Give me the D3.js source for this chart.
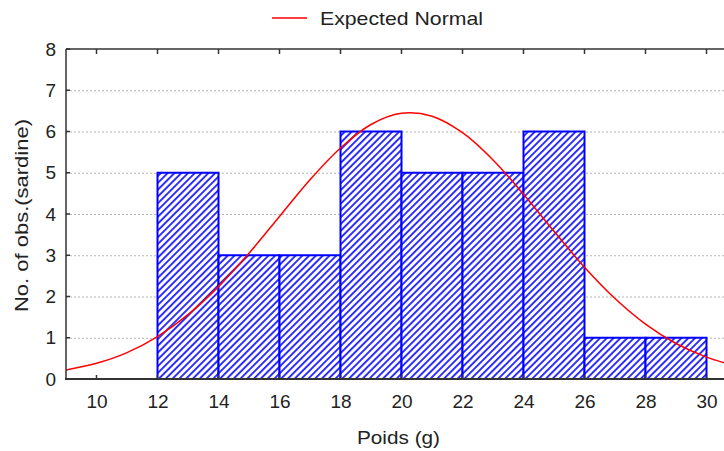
<!DOCTYPE html>
<html><head><meta charset="utf-8">
<script src="https://cdn.jsdelivr.net/npm/d3@7"></script>
<style>
html,body{margin:0;padding:0;background:#fff;overflow:hidden;}
text{font-family:"Liberation Sans",Arial,sans-serif;}
</style></head>
<body>
<svg id="chart" width="724" height="451"></svg>
<script>
// Histogram bins (lower edge, upper edge) and counts
const binStarts = [12, 14, 16, 18, 20, 22, 24, 26, 28];
const binEnds   = [14, 16, 18, 20, 22, 24, 26, 28, 30];
const counts    = [5, 3, 3, 6, 5, 5, 6, 1, 1];
// Expected normal curve
const curveX = [9, 10, 11, 12, 13, 14, 15, 16, 17, 18, 19, 20, 21, 22, 23, 24, 25, 26, 27, 28, 29, 30, 31];
const curveY = [0.22, 0.38, 0.64, 1.03, 1.56, 2.24, 3.05, 3.94, 4.83, 5.60, 6.17, 6.44, 6.37, 5.97, 5.31, 4.48, 3.58, 2.71, 1.95, 1.33, 0.86, 0.53, 0.31];
const xTicks = [10, 12, 14, 16, 18, 20, 22, 24, 26, 28, 30];
const yTicks = [0, 1, 2, 3, 4, 5, 6, 7, 8];
const xLabel = "Poids (g)";
const yLabel = "No. of obs.(sardine)";
const legendLabel = "Expected Normal";

(function () {
const svg = d3.select("#chart");
const pLeft = 66, pRight = 737, pTop = 49, pBottom = 379;
const x = d3.scaleLinear().domain([9, 31]).range([pLeft, pRight]);
const y = d3.scaleLinear().domain([0, 8]).range([pBottom, pTop]);
const fs = 19;

// hatch pattern
const defs = svg.append("defs");
const pat = defs.append("pattern").attr("id", "hatch").attr("patternUnits", "userSpaceOnUse")
  .attr("width", 4.8).attr("height", 4.8).attr("patternTransform", "rotate(45)");
pat.append("rect").attr("width", 4.8).attr("height", 4.8).attr("fill", "#fff");
pat.append("rect").attr("x", 0).attr("y", 0).attr("width", 1.9).attr("height", 4.8).attr("fill", "#2a2aff");
defs.append("clipPath").attr("id", "clip").append("rect")
  .attr("x", pLeft).attr("y", pTop).attr("width", pRight - pLeft).attr("height", pBottom - pTop);

// gridlines
svg.append("g").selectAll("line").data(yTicks.filter(d => d > 0 && d < 8)).join("line")
  .attr("x1", pLeft).attr("x2", 724).attr("y1", d => y(d) + 0.5).attr("y2", d => y(d) + 0.5)
  .attr("stroke", "#b4b4b4").attr("stroke-width", 1).attr("stroke-dasharray", "2,2");

// bars
svg.append("g").selectAll("rect").data(counts).join("rect")
  .attr("x", (d, i) => x(binStarts[i]))
  .attr("y", d => y(d))
  .attr("width", (d, i) => x(binEnds[i]) - x(binStarts[i]))
  .attr("height", d => y(0) - y(d))
  .attr("fill", "url(#hatch)").attr("stroke", "#0000ff").attr("stroke-width", 2);

// curve
const pts = curveX.map((v, i) => [v, curveY[i]]);
svg.append("path").datum(pts).attr("clip-path", "url(#clip)")
  .attr("d", d3.line().x(d => x(d[0])).y(d => y(d[1])).curve(d3.curveCatmullRom))
  .attr("fill", "none").attr("stroke", "#ff0000").attr("stroke-width", 1.5);

// axes
const axisColor = "#333";
const bottomAxis = svg.append("g").attr("transform", `translate(0,${pBottom})`)
  .call(d3.axisBottom(x).tickValues(xTicks).tickSize(0).tickPadding(16).tickFormat(d3.format("d")));
bottomAxis.select(".domain").remove();
bottomAxis.selectAll("text").attr("font-size", fs).attr("fill", "#222");
svg.append("g").selectAll("line").data(xTicks).join("line")
  .attr("x1", d => x(d)).attr("x2", d => x(d)).attr("y1", pBottom).attr("y2", pBottom - 4)
  .attr("stroke", axisColor).attr("stroke-width", 1.5);

svg.append("g").selectAll("line").data(xTicks).join("line")
  .attr("x1", d => x(d)).attr("x2", d => x(d)).attr("y1", pTop).attr("y2", pTop + 5)
  .attr("stroke", axisColor).attr("stroke-width", 1.5);

const leftAxis = svg.append("g").attr("transform", `translate(${pLeft},0)`)
  .call(d3.axisLeft(y).tickValues(yTicks).tickSize(0).tickPadding(10).tickFormat(d3.format("d")));
leftAxis.select(".domain").remove();
leftAxis.selectAll("text").attr("font-size", fs).attr("fill", "#222");
svg.append("g").selectAll("line").data(yTicks).join("line")
  .attr("x1", pLeft).attr("x2", pLeft + 4).attr("y1", d => y(d)).attr("y2", d => y(d))
  .attr("stroke", axisColor).attr("stroke-width", 1.5);

// frame lines
svg.append("line").attr("x1", pLeft).attr("x2", 724).attr("y1", pTop).attr("y2", pTop)
  .attr("stroke", axisColor).attr("stroke-width", 1.5);
svg.append("line").attr("x1", pLeft - 1).attr("x2", 724).attr("y1", pBottom).attr("y2", pBottom)
  .attr("stroke", axisColor).attr("stroke-width", 2);
svg.append("line").attr("x1", pLeft).attr("x2", pLeft).attr("y1", pTop).attr("y2", pBottom)
  .attr("stroke", axisColor).attr("stroke-width", 1.5);

// axis titles
svg.append("text").attr("x", 357).attr("y", 444)
  .attr("font-size", fs).attr("fill", "#222")
  .attr("textLength", 83).attr("lengthAdjust", "spacingAndGlyphs").text(xLabel);
svg.append("text").attr("transform", "translate(28,312) rotate(-90)")
  .attr("font-size", fs).attr("fill", "#222")
  .attr("textLength", 193).attr("lengthAdjust", "spacingAndGlyphs").text(yLabel);

// legend
svg.append("line").attr("x1", 272).attr("x2", 307).attr("y1", 18).attr("y2", 18)
  .attr("stroke", "#ff0000").attr("stroke-width", 1.5);
svg.append("text").attr("x", 320).attr("y", 25).attr("font-size", fs).attr("fill", "#222")
  .attr("textLength", 163).attr("lengthAdjust", "spacingAndGlyphs").text(legendLabel);
})();
</script>
</body></html>
